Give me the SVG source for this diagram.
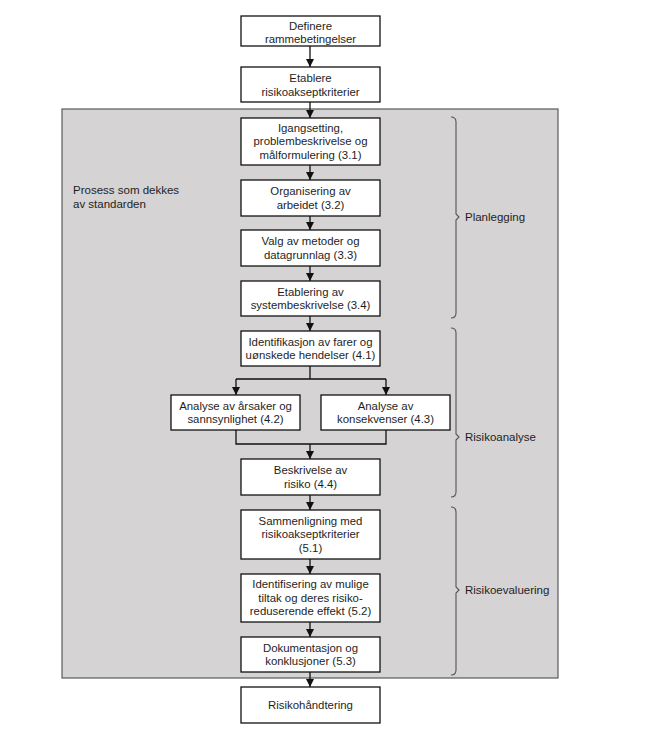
<svg xmlns="http://www.w3.org/2000/svg" width="657" height="749" viewBox="0 0 657 749">
<defs>
<style>
.box{fill:#fff;stroke:#111;stroke-width:1.3}
.t{font-family:"Liberation Sans",Arial,sans-serif;font-size:11.4px;fill:#1e1e1e;text-anchor:middle}
.lbl{font-family:"Liberation Sans",Arial,sans-serif;font-size:11.5px;fill:#1e1e1e}
.c{fill:none;stroke:#111;stroke-width:1.3}
.brace{fill:none;stroke:#555;stroke-width:1.1}
</style>
<marker id="ah" markerUnits="userSpaceOnUse" markerWidth="8" markerHeight="8" viewBox="0 0 8 8" refX="8" refY="4" orient="auto">
<path d="M0,0 L8,4 L0,8 Z" fill="#111"/>
</marker>
</defs>
<rect width="657" height="749" fill="#fff"/>
<g id="process-area">
<rect x="62" y="109" width="496" height="569" fill="#d5d3d4" stroke="#5a5a5a" stroke-width="1.2"/>
<text class="lbl" x="73" y="194">Prosess som dekkes</text>
<text class="lbl" x="73" y="208">av standarden</text>
</g>
<g id="connectors">
<path class="c" d="M310,46 V67" marker-end="url(#ah)"/>
<path class="c" d="M310,102 V118" marker-end="url(#ah)"/>
<path class="c" d="M310,165 V180" marker-end="url(#ah)"/>
<path class="c" d="M310,216 V230" marker-end="url(#ah)"/>
<path class="c" d="M310,266 V281" marker-end="url(#ah)"/>
<path class="c" d="M310,316 V331" marker-end="url(#ah)"/>
<path class="c" d="M310,366 V379 M236,379 H386"/>
<path class="c" d="M236,379 V395" marker-end="url(#ah)"/>
<path class="c" d="M386,379 V395" marker-end="url(#ah)"/>
<path class="c" d="M236,430 V444 H386 V430"/>
<path class="c" d="M310,444 V459" marker-end="url(#ah)"/>
<path class="c" d="M310,495 V510" marker-end="url(#ah)"/>
<path class="c" d="M310,559 V574" marker-end="url(#ah)"/>
<path class="c" d="M310,622 V637" marker-end="url(#ah)"/>
<path class="c" d="M310,672 V687" marker-end="url(#ah)"/>
</g>
<g id="n-definere">
<rect class="box" x="241" y="16" width="139" height="30"/>
<text class="t" x="310.5" y="29.5">Definere</text>
<text class="t" x="310.5" y="43">rammebetingelser</text>
</g>
<g id="n-etablere">
<rect class="box" x="241" y="67" width="139" height="35"/>
<text class="t" x="310.5" y="82">Etablere</text>
<text class="t" x="310.5" y="95.5">risikoakseptkriterier</text>
</g>
<g id="n-3-1">
<rect class="box" x="241" y="118" width="139" height="47"/>
<text class="t" x="310.5" y="131.5">Igangsetting,</text>
<text class="t" x="310.5" y="145">problembeskrivelse og</text>
<text class="t" x="310.5" y="158.5">målformulering (3.1)</text>
</g>
<g id="n-3-2">
<rect class="box" x="241" y="180" width="139" height="36"/>
<text class="t" x="310.5" y="195">Organisering av</text>
<text class="t" x="310.5" y="208.5">arbeidet (3.2)</text>
</g>
<g id="n-3-3">
<rect class="box" x="241" y="230" width="139" height="36"/>
<text class="t" x="310.5" y="245">Valg av metoder og</text>
<text class="t" x="310.5" y="258.5">datagrunnlag (3.3)</text>
</g>
<g id="n-3-4">
<rect class="box" x="241" y="281" width="139" height="35"/>
<text class="t" x="310.5" y="295.5">Etablering av</text>
<text class="t" x="310.5" y="309">systembeskrivelse (3.4)</text>
</g>
<g id="n-4-1">
<rect class="box" x="241" y="331" width="139" height="35"/>
<text class="t" x="310.5" y="345.5">Identifikasjon av farer og</text>
<text class="t" x="310.5" y="359">uønskede hendelser (4.1)</text>
</g>
<g id="n-4-2">
<rect class="box" x="171" y="395" width="129" height="35"/>
<text class="t" x="235.5" y="409.5">Analyse av årsaker og</text>
<text class="t" x="235.5" y="423">sannsynlighet (4.2)</text>
</g>
<g id="n-4-3">
<rect class="box" x="321" y="395" width="129" height="35"/>
<text class="t" x="385.5" y="409.5">Analyse av</text>
<text class="t" x="385.5" y="423">konsekvenser (4.3)</text>
</g>
<g id="n-4-4">
<rect class="box" x="241" y="459" width="139" height="36"/>
<text class="t" x="310.5" y="474">Beskrivelse av</text>
<text class="t" x="310.5" y="487.5">risiko (4.4)</text>
</g>
<g id="n-5-1">
<rect class="box" x="241" y="510" width="139" height="49"/>
<text class="t" x="310.5" y="524.5">Sammenligning med</text>
<text class="t" x="310.5" y="538">risikoakseptkriterier</text>
<text class="t" x="310.5" y="551.5">(5.1)</text>
</g>
<g id="n-5-2">
<rect class="box" x="241" y="574" width="139" height="48"/>
<text class="t" x="310.5" y="588">Identifisering av mulige</text>
<text class="t" x="310.5" y="601.5">tiltak og deres risiko-</text>
<text class="t" x="310.5" y="615">reduserende effekt (5.2)</text>
</g>
<g id="n-5-3">
<rect class="box" x="241" y="637" width="139" height="35"/>
<text class="t" x="310.5" y="651.5">Dokumentasjon og</text>
<text class="t" x="310.5" y="665">konklusjoner (5.3)</text>
</g>
<g id="n-risikohandtering">
<rect class="box" x="241" y="687" width="139" height="36"/>
<text class="t" x="310.5" y="709">Risikohåndtering</text>
</g>
<g id="brace-planlegging">
<path class="brace" d="M451,117 Q456,117 456,122 V214 L459,217 L456,220 V313 Q456,318 451,318"/>
<text class="lbl" x="465" y="221">Planlegging</text>
</g>
<g id="brace-risikoanalyse">
<path class="brace" d="M451,328 Q456,328 456,333 V434 L459,437 L456,440 V492 Q456,497 451,497"/>
<text class="lbl" x="465" y="441">Risikoanalyse</text>
</g>
<g id="brace-risikoevaluering">
<path class="brace" d="M451,507 Q456,507 456,512 V587 L459,590 L456,593 V670 Q456,675 451,675"/>
<text class="lbl" x="465" y="594">Risikoevaluering</text>
</g>
</svg>
